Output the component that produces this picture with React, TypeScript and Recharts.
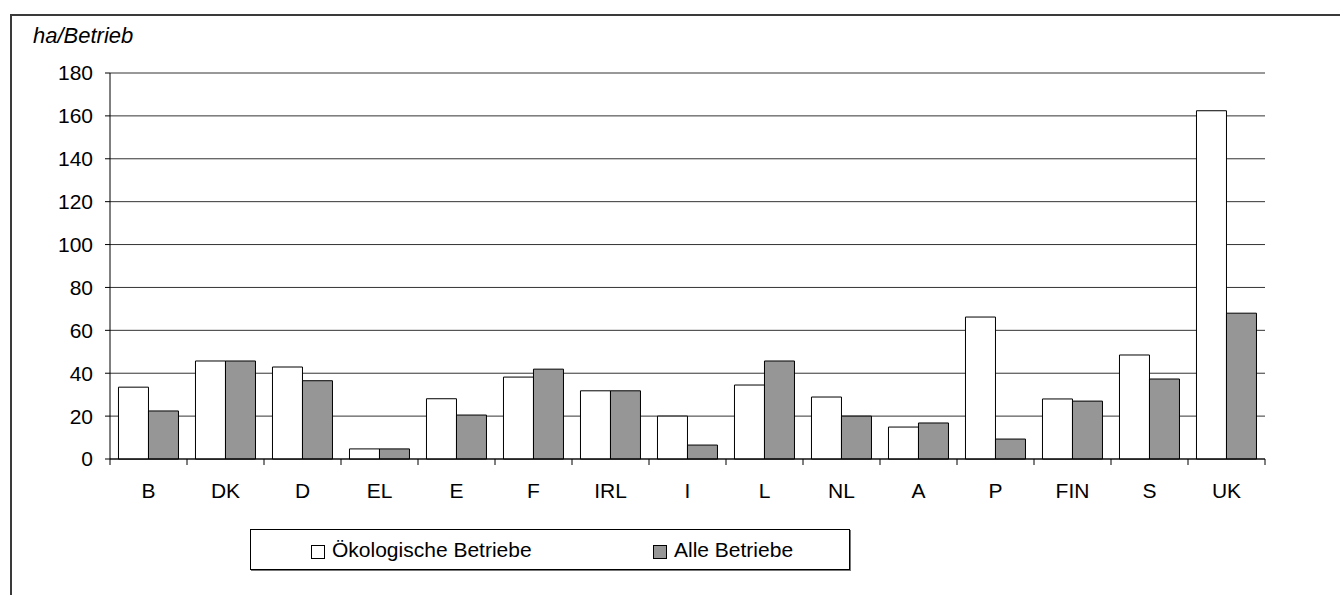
import React from 'react';
import { BarChart, Bar, XAxis, YAxis, CartesianGrid, Legend } from 'recharts';

// Average farm size (ha per farm), organic farms vs. all farms, by country
const countries = ['B', 'DK', 'D', 'EL', 'E', 'F', 'IRL', 'I', 'L', 'NL', 'A', 'P', 'FIN', 'S', 'UK'];
const organicFarms = [33.5, 45.7, 42.9, 4.7, 28.1, 38.2, 31.8, 20, 34.5, 28.9, 14.9, 66.2, 28, 48.5, 162.4];
const allFarms = [22.4, 45.7, 36.5, 4.7, 20.5, 41.9, 31.8, 6.5, 45.7, 20, 16.8, 9.3, 27, 37.3, 68];
const yTicks = [0, 20, 40, 60, 80, 100, 120, 140, 160, 180];
const seriesNames = ['Ökologische Betriebe', 'Alle Betriebe'];
const unitLabel = 'ha/Betrieb';

const data = countries.map((c, i) => ({ country: c, organic: organicFarms[i], all: allFarms[i] }));

const WIDTH = 1340;
const HEIGHT = 595;
const Y_AXIS_WIDTH = 110;
const X_AXIS_HEIGHT = 40;
const MARGIN = { top: 73, right: 75, bottom: 96, left: 0 };
const PLOT_WIDTH = WIDTH - MARGIN.left - MARGIN.right - Y_AXIS_WIDTH;
const HALF_BAND = PLOT_WIDTH / countries.length / 2;
const FONT = "'Liberation Sans', Arial, sans-serif";
const FONT_SIZE = 21;
const TICK_SIZE = 6;
const TICK_MARGIN = 18;

// Category labels with tick marks placed between the categories
const CategoryTick = (props: any) => {
  const { x, y, payload, index } = props;
  const axisY = y - TICK_SIZE - TICK_MARGIN;
  return (
    <g>
      <line x1={x - HALF_BAND} x2={x - HALF_BAND} y1={axisY} y2={axisY + TICK_SIZE} stroke="#000" />
      {index === countries.length - 1 && (
        <line x1={x + HALF_BAND} x2={x + HALF_BAND} y1={axisY} y2={axisY + TICK_SIZE} stroke="#000" />
      )}
      <text x={x} y={y} dy="0.71em" textAnchor="middle" fill="#000" fontSize={FONT_SIZE} fontFamily={FONT}>
        {payload.value}
      </text>
    </g>
  );
};

const LegendBox = () => (
  <div
    style={{
      position: 'relative',
      width: 600,
      height: 41,
      boxSizing: 'border-box',
      border: '1px solid #000',
      boxShadow: '1px 1px 0 #777',
      background: '#fff',
      fontFamily: FONT,
      fontSize: FONT_SIZE,
      color: '#000',
    }}
  >
    {seriesNames.map((name, i) => (
      <div
        key={name}
        style={{
          position: 'absolute',
          left: i === 0 ? 60 : 402,
          top: 0,
          height: 39,
          display: 'flex',
          alignItems: 'center',
          whiteSpace: 'nowrap',
        }}
      >
        <span
          style={{
            display: 'inline-block',
            width: 12,
            height: 12,
            border: '1px solid #000',
            background: i === 0 ? '#fff' : '#969696',
            marginRight: 7,
            marginTop: 4,
          }}
        />
        <span>{name}</span>
      </div>
    ))}
  </div>
);

export default function App() {
  return (
    <div style={{ position: 'absolute', left: 0, top: 0, width: WIDTH, height: HEIGHT, overflow: 'hidden', background: '#fff' }}>
      <div
        style={{
          position: 'absolute',
          left: 10,
          top: 14,
          width: 1500,
          height: 800,
          borderTop: '2px solid #3a3a3a',
          borderLeft: '2px solid #3a3a3a',
        }}
      />
      <div style={{ position: 'absolute', left: 0, top: 0 }}>
        <BarChart
          width={WIDTH}
          height={HEIGHT}
          data={data}
          margin={MARGIN}
          barCategoryGap="11%"
          barGap={0}
          style={{ fontFamily: FONT }}
        >
          <CartesianGrid horizontal vertical={false} stroke="#333" strokeWidth={1} />
          <XAxis
            dataKey="country"
            height={X_AXIS_HEIGHT}
            interval={0}
            axisLine={{ stroke: '#000' }}
            tickLine={false}
            tickSize={TICK_SIZE}
            tickMargin={TICK_MARGIN}
            tick={<CategoryTick />}
          />
          <YAxis
            width={Y_AXIS_WIDTH}
            domain={[0, 180]}
            ticks={yTicks}
            interval={0}
            axisLine={{ stroke: '#000' }}
            tickLine={{ stroke: '#000' }}
            tickSize={5}
            tickMargin={12}
            tick={{ fill: '#000', fontSize: FONT_SIZE, fontFamily: FONT }}
            label={{
              content: () => (
                <text x={33} y={43} fontSize={22} fontStyle="italic" fill="#000" fontFamily={FONT}>
                  {unitLabel}
                </text>
              ),
            }}
          />
          <Legend
            layout="horizontal"
            verticalAlign="middle"
            content={() => <LegendBox />}
            wrapperStyle={{ left: 250, top: 529, width: 600, height: 41 }}
          />
          <Bar dataKey="organic" name={seriesNames[0]} fill="#ffffff" stroke="#000" strokeWidth={1} isAnimationActive={false} />
          <Bar dataKey="all" name={seriesNames[1]} fill="#969696" stroke="#000" strokeWidth={1} isAnimationActive={false} />
        </BarChart>
      </div>
    </div>
  );
}
